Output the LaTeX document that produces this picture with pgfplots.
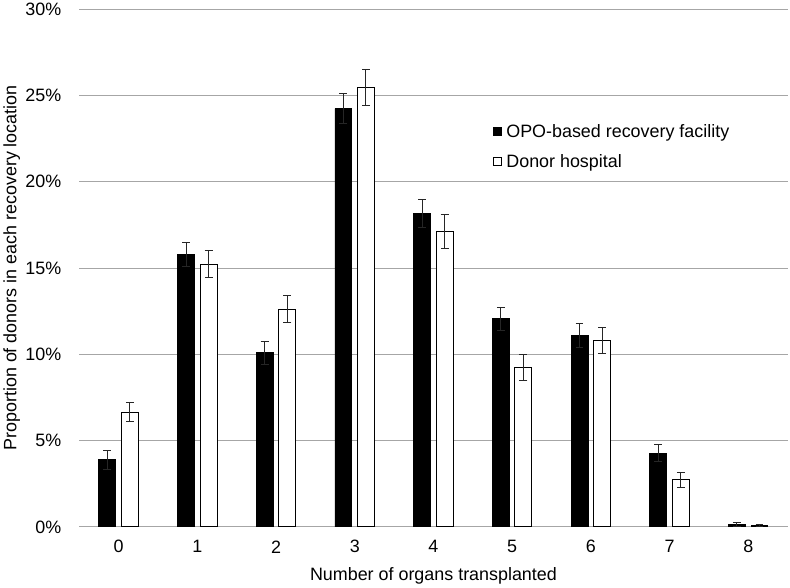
\documentclass[border=0pt]{standalone}
\usepackage{pgfplots}
\pgfplotsset{compat=1.18}
\usepackage{fontspec}
\setmainfont{Liberation Sans}
\begin{document}
\begin{tikzpicture}
\begin{axis}[
  scale only axis, width=712.1bp, height=520.7bp,
  xmin=-0.5, xmax=8.5, ymin=0, ymax=30,
  xtick={0,...,8}, ytick={0,5,...,30},
  ymajorgrids, major grid style={draw=gray!70, line width=0.8bp},
  axis line style={draw=none}, major tick length=0,
  font=\fontsize{18bp}{21bp}\selectfont,
  /pgf/number format/assume math mode=true,
  yticklabel={\pgfmathprintnumber{\tick}\%},
  yticklabel style={anchor=east, inner sep=0pt, xshift=-18bp},
  xticklabel style={anchor=center, inner sep=0pt, yshift=-20bp},
  xlabel={Number of organs transplanted},
  ylabel={Proportion of donors in each recovery location},
  xlabel style={at={(axis description cs:0.5,-0.0939)}, anchor=center},
  ylabel style={at={(axis description cs:-0.0955,0.5)}, anchor=center},
  ybar, bar width=17bp,
  legend style={at={(axis description cs:0.584,0.778)}, anchor=north west,
    draw=none, fill=none, inner sep=0pt, row sep=16bp,
    nodes={inner sep=0pt},
    /tikz/every odd column/.append style={column sep=5bp},
    font=\fontsize{18bp}{21bp}\selectfont},
  legend cell align=left,
  error bars/y dir=both, error bars/y explicit,
  error bars/error bar style={line width=1bp, black!85},
  error bars/error mark options={rotate=90, mark size=4bp, line width=1bp, black!85},
]
\addplot[fill=black, draw=black, line width=0.8bp, bar shift=-11.4bp,
  legend image code/.code={\draw[fill=black,draw=black,line width=0.8bp] (0bp,-4bp) rectangle (7.5bp,4bp);}]
  coordinates {
  (0,3.88) +- (0,0.53)
  (1,15.78) +- (0,0.70)
  (2,10.08) +- (0,0.65)
  (3,24.22) +- (0,0.86)
  (4,18.17) +- (0,0.82)
  (5,12.06) +- (0,0.67)
  (6,11.08) +- (0,0.69)
  (7,4.26) +- (0,0.50)
  (8,0.14) +- (0,0.13)
};
\addlegendentry{OPO-based recovery facility}
\addplot[fill=white, draw=black, line width=1bp, bar shift=11.3bp,
  legend image code/.code={\draw[fill=white,draw=black,line width=0.8bp] (0bp,-4bp) rectangle (7.5bp,4bp);}]
  coordinates {
  (0,6.65) +- (0,0.57)
  (1,15.21) +- (0,0.77)
  (2,12.62) +- (0,0.77)
  (3,25.44) +- (0,1.05)
  (4,17.11) +- (0,0.96)
  (5,9.24) +- (0,0.77)
  (6,10.79) +- (0,0.75)
  (7,2.73) +- (0,0.42)
  (8,0.08) +- (0,0.05)
};
\addlegendentry{Donor hospital}
\end{axis}
\path (current axis.south west) ++(-75.5bp,-58.3bp) rectangle ++(790bp,588bp);
\end{tikzpicture}
\end{document}
